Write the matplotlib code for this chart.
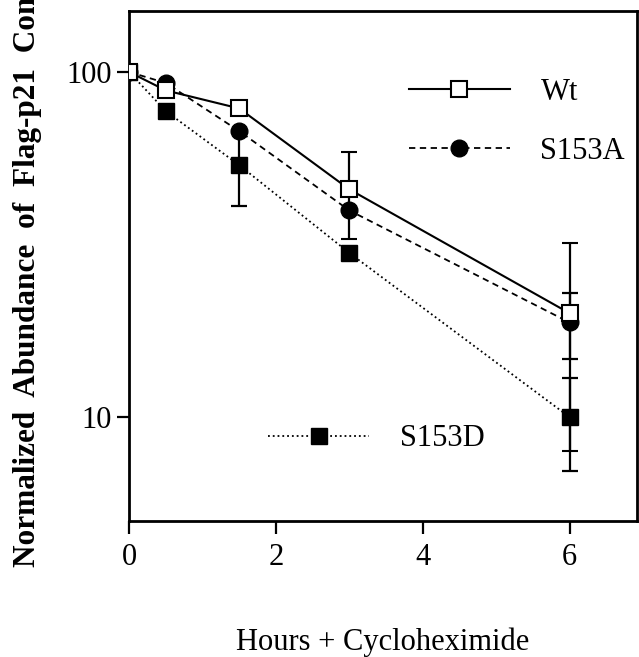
import matplotlib.pyplot as plt
from matplotlib.lines import Line2D

plt.rcParams['font.family'] = ['Liberation Serif', 'DejaVu Serif']

# hours after cycloheximide
hours = [0, 0.5, 1.5, 3, 6]

# normalized abundance (%)
wt = [100, 88.4, 78.4, 45.7, 20.0]
wt_err = [0, 0, 0, 12.9, 12.0]
s153a = [100, 92.9, 67.4, 39.7, 18.8]
s153a_err = [0, 0, 0, 0, 4.1]
s153d = [100, 77.0, 53.7, 29.9, 10.0]
s153d_err = [0, 0, 12.8, 0, 3.0]

FS = 22

fig = plt.figure(figsize=(6.39, 6.57), dpi=100)
ax = fig.add_axes([0.202, 0.207, 0.795, 0.776])

eb = dict(color='black', elinewidth=1.6, capsize=6, capthick=1.6)
ax.errorbar(hours, s153d, yerr=s153d_err, linestyle=':', linewidth=1.3,
            marker='s', markersize=11, markerfacecolor='black',
            markeredgecolor='black', zorder=2, **eb)
ax.errorbar(hours, s153a, yerr=s153a_err, linestyle=(0, (3.5, 2.5)), linewidth=1.3,
            marker='o', markersize=12, markerfacecolor='black',
            markeredgecolor='black', zorder=3, **eb)
ax.errorbar(hours, wt, yerr=wt_err, linestyle='-', linewidth=1.5,
            marker='s', markersize=11, markerfacecolor='white',
            markeredgecolor='black', markeredgewidth=1.5, zorder=4, **eb)

ax.set_yscale('log')
ax.set_ylim(5, 150)
ax.set_xlim(0, 6.92)
ax.set_xticks([0, 2, 4, 6])
ax.set_yticks([10, 100])
ax.set_yticklabels(['10', '100'])
ax.yaxis.set_minor_locator(plt.NullLocator())
ax.tick_params(labelsize=FS, width=1.6, length=9, direction='out')
ax.tick_params(axis='x', pad=7)
for s in ax.spines.values():
    s.set_linewidth(2)

ax.set_xlabel('Hours + Cycloheximide', fontsize=FS, labelpad=40)
fig.text(35 / 639, 1 - 567 / 657, 'Normalized  Abundance  of  Flag-p21  Construct',
         rotation=90, rotation_mode='anchor', ha='left', va='baseline',
         fontsize=22.5, fontweight='bold')

h_wt = Line2D([], [], color='black', linestyle='-', linewidth=1.5, marker='s',
              markersize=11, markerfacecolor='white', markeredgewidth=1.5)
h_a = Line2D([], [], color='black', linestyle=(0, (3.5, 2.5)), linewidth=1.3,
             marker='o', markersize=12)
h_d = Line2D([], [], color='black', linestyle=':', linewidth=1.3, marker='s',
             markersize=11)

leg1 = ax.legend([h_wt, h_a], ['Wt', 'S153A'], loc='center left',
                 bbox_to_anchor=(0.551, 0.783), frameon=False, fontsize=FS,
                 numpoints=1, handlelength=3.3, handletextpad=1.0,
                 labelspacing=1.0, borderpad=0, borderaxespad=0)
ax.add_artist(leg1)
ax.legend([h_d], ['S153D'], loc='center left', bbox_to_anchor=(0.274, 0.161),
          frameon=False, fontsize=FS, numpoints=1, handlelength=3.3,
          handletextpad=1.0, borderpad=0, borderaxespad=0)

fig.savefig('out.png', dpi=100)
